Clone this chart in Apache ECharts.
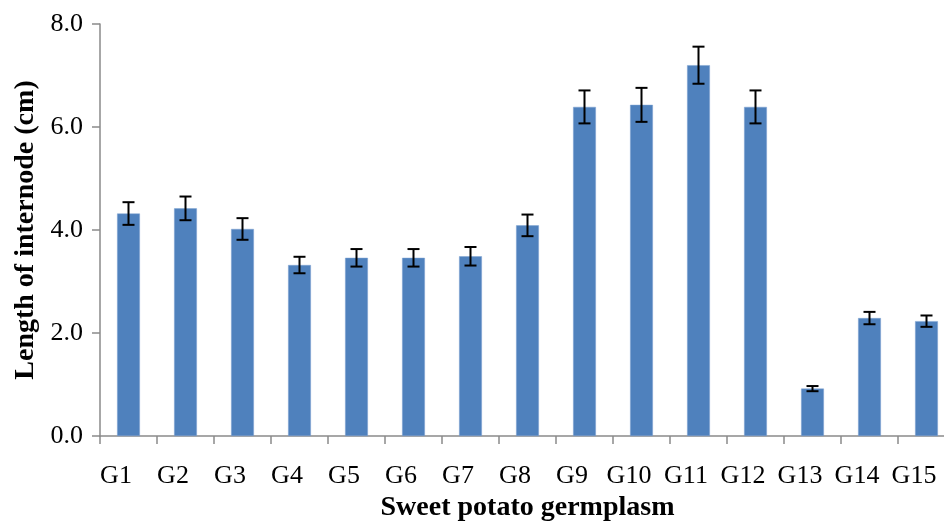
<!DOCTYPE html>
<html>
<head>
<meta charset="utf-8">
<script src="https://cdn.jsdelivr.net/npm/echarts@6/dist/echarts.min.js"></script>
<style>html,body{margin:0;padding:0;background:#fff}#c{width:944px;height:522px}</style>
</head>
<body>
<div id="c"></div>
<script>
const categories = ['G1','G2','G3','G4','G5','G6','G7','G8','G9','G10','G11','G12','G13','G14','G15'];
const means = [4.32, 4.42, 4.02, 3.32, 3.46, 3.46, 3.49, 4.09, 6.39, 6.43, 7.20, 6.39, 0.92, 2.29, 2.23];
const errors = [0.22, 0.23, 0.21, 0.16, 0.17, 0.17, 0.18, 0.21, 0.32, 0.33, 0.36, 0.32, 0.05, 0.12, 0.11];
const yTicks = [0, 2, 4, 6, 8];

const errData = means.map((m, i) => [i, m - errors[i], m + errors[i]]);
const FONT = 'Liberation Serif';

const chart = echarts.init(document.getElementById('c'));
chart.setOption({
  animation: false,
  grid: { left: 100, top: 24, height: 412, width: 855, containLabel: false, outerBoundsMode: 'none' },
  xAxis: {
    type: 'category',
    data: categories,
    name: 'Sweet potato germplasm',
    nameLocation: 'middle',
    nameGap: 55,
    nameTextStyle: { fontFamily: FONT, fontWeight: 'bold', fontSize: 28, color: '#000' },
    axisLine: { lineStyle: { color: '#8a8a8a', width: 1.5 } },
    axisTick: { show: true, interval: 0, length: 8, lineStyle: { color: '#8a8a8a', width: 1.5 } },
    axisLabel: { interval: 0, margin: 27, fontFamily: FONT, fontSize: 26, color: '#000', padding: [0, 25, 0, 0] }
  },
  yAxis: {
    type: 'value',
    min: yTicks[0],
    max: yTicks[yTicks.length - 1],
    interval: 2,
    name: 'Length of internode (cm)',
    nameLocation: 'middle',
    nameGap: 60,
    nameRotate: 90,
    nameTextStyle: { fontFamily: FONT, fontWeight: 'bold', fontSize: 28, color: '#000' },
    axisLine: { show: true, lineStyle: { color: '#8a8a8a', width: 1.5 } },
    axisTick: { show: true, length: 8, lineStyle: { color: '#8a8a8a', width: 1.5 } },
    splitLine: { show: false },
    axisLabel: { margin: 17, fontFamily: FONT, fontSize: 26, color: '#000', formatter: v => v.toFixed(1) }
  },
  series: [
    {
      type: 'bar',
      data: means,
      barWidth: '40%',
      itemStyle: { color: '#4F81BD', borderColor: '#7FA3D0', borderWidth: 0.5 }
    },
    {
      type: 'custom',
      data: errData,
      z: 5,
      renderItem: function (params, api) {
        const x = api.value(0);
        const lo = api.coord([x, api.value(1)]);
        const hi = api.coord([x, api.value(2)]);
        const hw = 6;
        const st = { stroke: '#000', lineWidth: 2 };
        return {
          type: 'group',
          children: [
            { type: 'line', shape: { x1: hi[0], y1: hi[1], x2: lo[0], y2: lo[1] }, style: st },
            { type: 'line', shape: { x1: hi[0] - hw, y1: hi[1], x2: hi[0] + hw, y2: hi[1] }, style: st },
            { type: 'line', shape: { x1: lo[0] - hw, y1: lo[1], x2: lo[0] + hw, y2: lo[1] }, style: st }
          ]
        };
      }
    }
  ]
});
</script>
</body>
</html>
